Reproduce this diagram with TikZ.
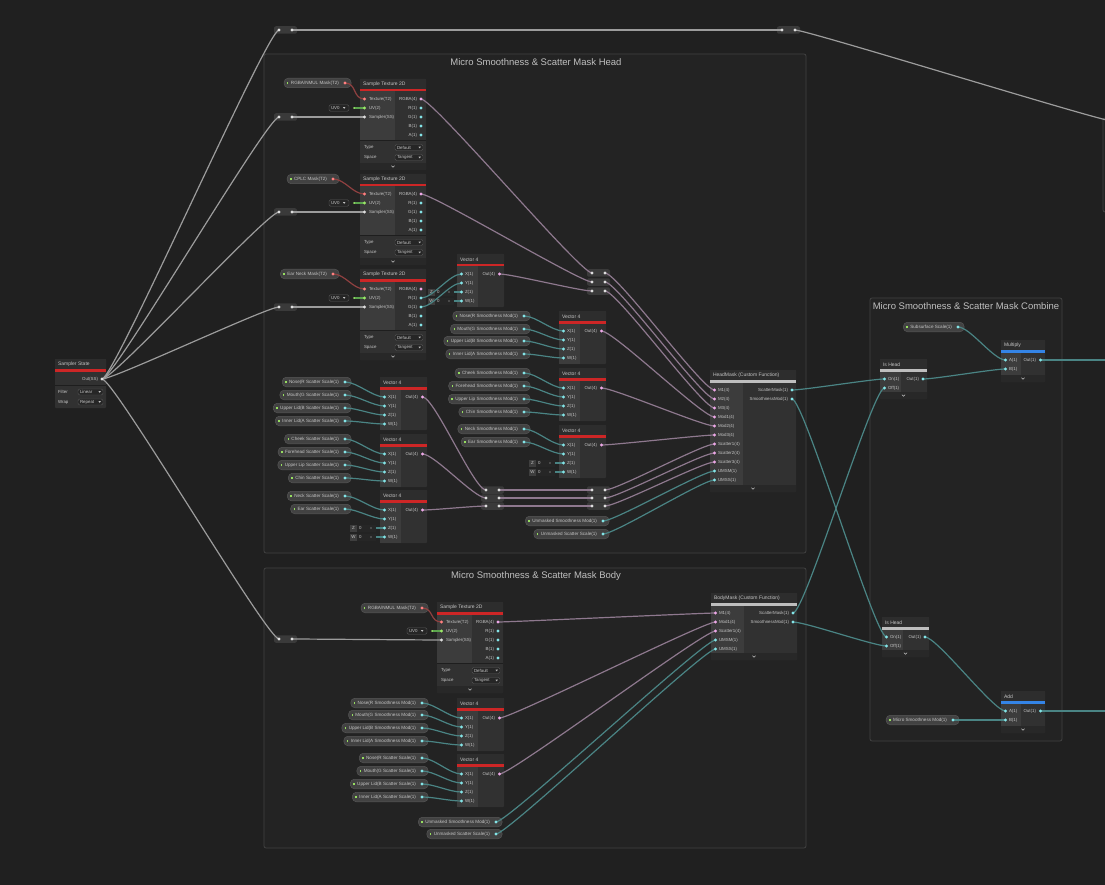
\documentclass[tikz,border=0pt]{standalone}
\usepackage{fontspec}
\setmainfont{Liberation Sans}
\usetikzlibrary{positioning}

\definecolor{canvas}{RGB}{32,32,32}
\definecolor{groupfill}{RGB}{35,35,35}
\definecolor{groupline}{RGB}{66,66,66}
\definecolor{titletxt}{RGB}{192,192,192}
\definecolor{labeltxt}{RGB}{196,196,196}
\definecolor{nodehead}{RGB}{45,45,45}
\definecolor{nodein}{RGB}{60,60,60}
\definecolor{nodeout}{RGB}{49,49,49}
\definecolor{nodefoot}{RGB}{40,40,40}
\definecolor{sepcol}{RGB}{30,30,30}
\definecolor{barred}{RGB}{205,38,38}
\definecolor{barblue}{RGB}{52,132,230}
\definecolor{bargray}{RGB}{190,190,190}
\definecolor{pillfill}{RGB}{66,66,66}
\definecolor{pillline}{RGB}{86,86,86}
\definecolor{propmark}{RGB}{150,222,96}
\definecolor{reroutefill}{RGB}{58,58,58}
\definecolor{fieldlbl}{RGB}{62,62,62}
\definecolor{fieldbox}{RGB}{38,38,38}
\definecolor{portvec4}{RGB}{238,168,232}
\definecolor{portvec1}{RGB}{132,228,231}
\definecolor{porttex}{RGB}{255,128,128}
\definecolor{portss}{RGB}{222,222,222}
\definecolor{portuv}{RGB}{156,232,104}
\definecolor{wirevec4}{RGB}{142,120,142}
\definecolor{wirevec1}{RGB}{74,132,132}
\definecolor{wiretex}{RGB}{142,64,64}
\definecolor{wiress}{RGB}{156,156,156}
\definecolor{wireuv}{RGB}{92,164,78}

\pgfdeclarelayer{wirelayer}
\pgfdeclarelayer{portlayer}
\pgfsetlayers{main,wirelayer,portlayer}

\tikzset{
  x=1pt, y=-1pt,
  every node/.style={inner sep=0pt, outer sep=0pt},
  groupbox/.style={fill=groupfill, draw=groupline, line width=0.8pt, rounded corners=2pt},
  grouptitle/.style={text=titletxt, font=\fontsize{9.5}{11}\selectfont},
  nodebox/.style={fill=nodeout, rounded corners=1pt},
  headtxt/.style={anchor=west, text=labeltxt, font=\fontsize{5}{6}\selectfont},
  porttxt/.style={text=labeltxt, font=\fontsize{4.4}{5}\selectfont},
  pillbox/.style={fill=pillfill, draw=pillline, line width=0.5pt, rounded corners=4pt,
    minimum height=9.5pt, inner xsep=3pt, text=labeltxt, font=\fontsize{4.6}{5.5}\selectfont},
  reroutebox/.style={fill=reroutefill, rounded corners=2pt, minimum width=23pt, minimum height=7.5pt},
  dropstyle/.style={fill=fieldbox, draw=pillline, line width=0.4pt, rounded corners=1.5pt},
  sepline/.style={draw=sepcol, line width=0.8pt},
  wire/.style={line width=1.2pt},
  v4wire/.style={wire, draw=wirevec4},
  v1wire/.style={wire, draw=wirevec1},
  texwire/.style={wire, draw=wiretex},
  sswire/.style={wire, draw=wiress},
  uvwire/.style={wire, draw=wireuv},
}

% small pieces
\newcommand{\port}[2]{\begin{pgfonlayer}{portlayer}\fill[#2] (#1) circle[radius=1.7pt];\end{pgfonlayer}}
\newcommand{\conn}[3]{\begin{pgfonlayer}{wirelayer}\draw[#1] (#2) .. controls +(12,0) and +(-12,0) .. (#3);\end{pgfonlayer}}
\newcommand{\chevron}[2]{\draw[labeltxt, line width=0.5pt] (#1-1.6,#2-0.8) -- (#1,#2+0.8) -- (#1+1.6,#2-0.8);}
\newcommand{\dropbox}[4]{% left, y, width, text
  \draw[dropstyle] (#1,#2-3) rectangle ++(#3,6);
  \node[porttxt, anchor=west] at (#1+2,#2) {#4};
  \fill[labeltxt] (#1+#3-4.5,#2-0.8) -- ++(2.4,0) -- ++(-1.2,1.6) -- cycle;
}
\newcommand{\uvfield}[3]{% name, left, y
  \node[dropstyle, minimum width=20pt, minimum height=6.5pt, anchor=west] (#1-box) at (#2,#3) {};
  \node[porttxt, anchor=west] (#1-lbl) at (#2+2,#3) {UV0};
  \fill[labeltxt] (#2+14,#3-0.8) -- ++(2.4,0) -- ++(-1.2,1.6) -- cycle;
  \coordinate (#1) at (#2+25,#3);
  \begin{pgfonlayer}{portlayer}\fill[portuv] (#1) circle[radius=1pt];\end{pgfonlayer}
}
\newcommand{\valfield}[4]{% name, left, y, letter
  \fill[fieldlbl] (#2,#3-3.5) rectangle ++(7,7);
  \fill[fieldbox] (#2+7,#3-3.5) rectangle ++(19,7);
  \node[porttxt] (#1-lbl) at (#2+3.5,#3) {#4};
  \node[porttxt, anchor=west] (#1-val) at (#2+9,#3) {0};
  \fill[labeltxt] (#2+21,#3) circle[radius=0.6pt];
  \coordinate (#1) at (#2+26,#3);
}
\newcommand{\proppill}[5]{% name, right, y, text, port colour
  \node[pillbox, anchor=east] (#1) at (#2,#3) {\textcolor{propmark}{\rule[-0.3pt]{1.4pt}{2.6pt}}\kern2.5pt#4\kern9pt};
  \coordinate (#1-out) at (#2-6,#3);
  \port{#1-out}{#5}
}
\newcommand{\reroute}[4]{% name, left, y, port colour
  \node[reroutebox, anchor=west] (#1) at (#2,#3) {};
  \coordinate (#1-in) at (#2+5,#3);
  \coordinate (#1-out) at (#2+18,#3);
  \port{#1-in}{#4}\port{#1-out}{#4}
}

% graph nodes
\newcommand{\samplerstate}[3]{%
  \node[nodebox, minimum width=51pt, minimum height=49pt, anchor=north west] (#1) at (#2,#3) {};
  \fill[nodehead] (#2,#3) rectangle ++(51,10);
  \fill[barred] (#2,#3+10) rectangle ++(51,2.5);
  \node[headtxt] (#1-title) at (#2+3,#3+5.5) {Sampler State};
  \node[porttxt, anchor=east] (#1-lbl) at (#2+43,#3+20) {Out(SS)};
  \coordinate (#1-out) at (#2+47,#3+20);
  \port{#1-out}{portss}
  \draw[sepline] (#2,#3+26) -- ++(51,0);
  \node[porttxt, anchor=west] (#1-filter) at (#2+3,#3+33) {Filter};
  \node[porttxt, anchor=west] (#1-wrap) at (#2+3,#3+43) {Wrap};
  \dropbox{#2+23}{#3+33}{25}{Linear}
  \dropbox{#2+23}{#3+43}{25}{Repeat}
}
\newcommand{\sampletex}[3]{%
  \node[nodebox, minimum width=66pt, minimum height=91pt, anchor=north west] (#1) at (#2,#3) {};
  \fill[nodehead] (#2,#3) rectangle ++(66,10);
  \fill[barred] (#2,#3+10) rectangle ++(66,2.5);
  \fill[nodein] (#2,#3+12.5) rectangle (#2+35,#3+61);
  \fill[nodefoot] (#2,#3+84) rectangle ++(66,7);
  \draw[sepline] (#2,#3+61) -- ++(66,0);
  \node[headtxt] (#1-title) at (#2+3,#3+5.5) {Sample Texture 2D};
  \foreach \p/\lbl/\dy/\col in {tex/Texture(T2)/20/porttex, uv/UV(2)/29/portuv, ss/Sampler(SS)/38/portss}{
    \node[porttxt, anchor=west] (#1-\p-lbl) at (#2+9,#3+\dy) {\lbl};
    \coordinate (#1-\p) at (#2+4.5,#3+\dy);
    \port{#1-\p}{\col}
  }
  \foreach \p/\lbl/\dy/\col in {rgba/RGBA(4)/20/portvec4, r/R(1)/29/portvec1, g/G(1)/38/portvec1, b/B(1)/47/portvec1, a/A(1)/56/portvec1}{
    \node[porttxt, anchor=east] (#1-\p-lbl) at (#2+57,#3+\dy) {\lbl};
    \coordinate (#1-\p) at (#2+61,#3+\dy);
    \port{#1-\p}{\col}
  }
  \node[porttxt, anchor=west] (#1-type) at (#2+4,#3+68.5) {Type};
  \node[porttxt, anchor=west] (#1-space) at (#2+4,#3+78.5) {Space};
  \dropbox{#2+35}{#3+68.5}{28}{Default}
  \dropbox{#2+35}{#3+78.5}{28}{Tangent}
  \chevron{#2+33}{#3+87.5}
}
\newcommand{\vecfour}[3]{%
  \node[nodebox, minimum width=47pt, minimum height=53pt, anchor=north west] (#1) at (#2,#3) {};
  \fill[nodehead] (#2,#3) rectangle ++(47,10);
  \fill[barred] (#2,#3+10) rectangle ++(47,2.5);
  \fill[nodein] (#2,#3+12.5) rectangle (#2+21,#3+53);
  \node[headtxt] (#1-title) at (#2+3,#3+5.5) {Vector 4};
  \foreach \p/\lbl/\dy in {x/X(1)/20, y/Y(1)/29, z/Z(1)/38, w/W(1)/47}{
    \node[porttxt, anchor=west] (#1-\p-lbl) at (#2+8,#3+\dy) {\lbl};
    \coordinate (#1-\p) at (#2+4.5,#3+\dy);
    \port{#1-\p}{portvec1}
  }
  \node[porttxt, anchor=east] (#1-out-lbl) at (#2+38,#3+20) {Out(4)};
  \coordinate (#1-out) at (#2+42.5,#3+20);
  \port{#1-out}{portvec4}
}
\newcommand{\custfunc}[6]{% name, left, top, height, title, inputs
  \node[nodebox, minimum width=86pt, minimum height=#4pt, anchor=north west] (#1) at (#2,#3) {};
  \fill[nodehead] (#2,#3) rectangle ++(86,10);
  \fill[bargray] (#2,#3+10) rectangle ++(86,2.5);
  \fill[nodein] (#2,#3+12.5) rectangle (#2+33,#3+#4-7);
  \fill[nodefoot] (#2,#3+#4-7) rectangle (#2+86,#3+#4);
  \node[headtxt] (#1-title) at (#2+3,#3+5.5) {#5};
  \foreach \lbl/\col [count=\i] in {#6}{
    \node[porttxt, anchor=west] (#1-in\i-lbl) at (#2+8,#3+11+9*\i) {\lbl};
    \coordinate (#1-in\i) at (#2+4.5,#3+11+9*\i);
    \port{#1-in\i}{\col}
  }
  \node[porttxt, anchor=east] (#1-scat-lbl) at (#2+78,#3+20) {ScatterMask(1)};
  \node[porttxt, anchor=east] (#1-smooth-lbl) at (#2+78,#3+29) {SmoothnessMod(1)};
  \coordinate (#1-scat) at (#2+82,#3+20);
  \coordinate (#1-smooth) at (#2+82,#3+29);
  \port{#1-scat}{portvec1}\port{#1-smooth}{portvec1}
  \chevron{#2+43}{#3+#4-3.5}
}
\newcommand{\ishead}[3]{%
  \node[nodebox, minimum width=47pt, minimum height=40pt, anchor=north west] (#1) at (#2,#3) {};
  \fill[nodehead] (#2,#3) rectangle ++(47,10);
  \fill[bargray] (#2,#3+10) rectangle ++(47,2.5);
  \fill[nodein] (#2,#3+12.5) rectangle (#2+21,#3+33);
  \fill[nodefoot] (#2,#3+33) rectangle ++(47,7);
  \node[headtxt] (#1-title) at (#2+3,#3+5.5) {Is Head};
  \node[porttxt, anchor=west] (#1-on-lbl) at (#2+8,#3+20) {On(1)};
  \node[porttxt, anchor=west] (#1-off-lbl) at (#2+8,#3+29) {Off(1)};
  \node[porttxt, anchor=east] (#1-out-lbl) at (#2+39,#3+20) {Out(1)};
  \coordinate (#1-on) at (#2+4.5,#3+20);
  \coordinate (#1-off) at (#2+4.5,#3+29);
  \coordinate (#1-out) at (#2+43,#3+20);
  \port{#1-on}{portvec1}\port{#1-off}{portvec1}\port{#1-out}{portvec1}
  \chevron{#2+23.5}{#3+36.5}
}
\newcommand{\mathnode}[4]{% name, left, top, title
  \node[nodebox, minimum width=44pt, minimum height=42pt, anchor=north west] (#1) at (#2,#3) {};
  \fill[nodehead] (#2,#3) rectangle ++(44,10);
  \fill[barblue] (#2,#3+10) rectangle ++(44,2.5);
  \fill[nodein] (#2,#3+12.5) rectangle (#2+20,#3+35);
  \fill[nodefoot] (#2,#3+35) rectangle ++(44,7);
  \node[headtxt] (#1-title) at (#2+3,#3+5.5) {#4};
  \node[porttxt, anchor=west] (#1-a-lbl) at (#2+8,#3+20) {A(1)};
  \node[porttxt, anchor=west] (#1-b-lbl) at (#2+8,#3+29) {B(1)};
  \node[porttxt, anchor=east] (#1-out-lbl) at (#2+35,#3+20) {Out(1)};
  \coordinate (#1-a) at (#2+4.5,#3+20);
  \coordinate (#1-b) at (#2+4.5,#3+29);
  \coordinate (#1-out) at (#2+39.5,#3+20);
  \port{#1-a}{portvec1}\port{#1-b}{portvec1}\port{#1-out}{portvec1}
  \chevron{#2+22}{#3+38.5}
}

\begin{document}
\begin{tikzpicture}
  \useasboundingbox (0,0) rectangle (1105,885);
  \fill[canvas] (0,0) rectangle (1105,885);

  % groups
  \node[groupbox, minimum width=542pt, minimum height=499pt, anchor=north west] (grphead) at (264,54) {};
  \node[grouptitle] (grphead-title) at (536,62) {Micro Smoothness \& Scatter Mask Head};
  \node[groupbox, minimum width=542pt, minimum height=280pt, anchor=north west] (grpbody) at (264,568) {};
  \node[grouptitle] (grpbody-title) at (536,576) {Micro Smoothness \& Scatter Mask Body};
  \node[groupbox, minimum width=192pt, minimum height=443pt, anchor=north west] (grpcomb) at (870,298) {};
  \node[grouptitle] (grpcomb-title) at (966,306) {Micro Smoothness \& Scatter Mask Combine};
  \node[groupbox, minimum width=120pt, minimum height=94pt, anchor=north west] (grpnext) at (1103,118) {};

  % sampler and its reroutes
  \samplerstate{sampler}{55}{359}
  \reroute{rdtop}{274}{30}{portss}
  \reroute{rdfar}{777}{30}{portss}
  \reroute{rdst1}{274}{117}{portss}
  \reroute{rdst2}{274}{212}{portss}
  \reroute{rdst3}{274}{307}{portss}
  \reroute{rdbody}{274}{639}{portss}
  \coordinate (exit-top) at (1112,121);

  % head: textures
  \sampletex{st1}{360}{79}
  \sampletex{st2}{360}{174}
  \sampletex{st3}{360}{269}
  \proppill{tex1}{351}{83}{RGBA/NMUL Mask(T2)}{porttex}
  \proppill{tex2}{339}{179}{CPLC Mask(T2)}{porttex}
  \proppill{tex3}{339}{274}{Ear Neck Mask(T2)}{porttex}
  \uvfield{uv1}{329}{108}
  \uvfield{uv2}{329}{203}
  \uvfield{uv3}{329}{298}

  % head: vectors
  \vecfour{vh}{457}{254}
  \valfield{vhz}{428}{292}{Z}
  \valfield{vhw}{428}{301}{W}
  \vecfour{vm1}{559}{311}
  \vecfour{vm2}{559}{368}
  \vecfour{vm3}{559}{425}
  \valfield{vm3z}{529}{463}{Z}
  \valfield{vm3w}{529}{472}{W}
  \vecfour{vs1}{380}{377}
  \vecfour{vs2}{380}{434}
  \vecfour{vs3}{380}{490}
  \valfield{vs3z}{350}{528}{Z}
  \valfield{vs3w}{350}{537}{W}

  \foreach \nm/\yy/\txt/\tgt in {
      hsm1/316/Nose(R Smoothness Mod(1)/vm1-x, hsm2/329/Mouth(G Smoothness Mod(1)/vm1-y,
      hsm3/341/Upper Lid(B Smoothness Mod(1)/vm1-z, hsm4/354/Inner Lid(A Smoothness Mod(1)/vm1-w,
      hsm5/373/Cheek Smoothness Mod(1)/vm2-x, hsm6/386/Forehead Smoothness Mod(1)/vm2-y,
      hsm7/399/Upper Lip Smoothness Mod(1)/vm2-z, hsm8/412/Chin Smoothness Mod(1)/vm2-w,
      hsm9/429/Neck Smoothness Mod(1)/vm3-x, hsm10/442/Ear Smoothness Mod(1)/vm3-y}{
    \proppill{\nm}{530}{\yy}{\txt}{portvec1}
    \conn{v1wire}{\nm-out}{\tgt}
  }
  \foreach \nm/\yy/\txt/\tgt in {
      hsc1/382/Nose(R Scatter Scale(1)/vs1-x, hsc2/395/Mouth(G Scatter Scale(1)/vs1-y,
      hsc3/408/Upper Lid(B Scatter Scale(1)/vs1-z, hsc4/421/Inner Lid(A Scatter Scale(1)/vs1-w,
      hsc5/439/Cheek Scatter Scale(1)/vs2-x, hsc6/452/Forehead Scatter Scale(1)/vs2-y,
      hsc7/465/Upper Lip Scatter Scale(1)/vs2-z, hsc8/478/Chin Scatter Scale(1)/vs2-w,
      hsc9/496/Neck Scatter Scale(1)/vs3-x, hsc10/509/Ear Scatter Scale(1)/vs3-y}{
    \proppill{\nm}{351}{\yy}{\txt}{portvec1}
    \conn{v1wire}{\nm-out}{\tgt}
  }

  % head: reroute stacks and mask function
  \foreach \i/\yy in {1/273, 2/282, 3/291}{
    \reroute{rcm\i}{587}{\yy}{portss}
  }
  \foreach \i/\yy in {1/490, 2/498, 3/506}{
    \reroute{rcsl\i}{481}{\yy}{portss}
    \reroute{rcsr\i}{587}{\yy}{portss}
  }
  \custfunc{hm}{710}{370}{122}{HeadMask (Custom Function)}{M1(4)/portvec4, M2(4)/portvec4, M3(4)/portvec4,
    Mod1(4)/portvec4, Mod2(4)/portvec4, Mod3(4)/portvec4, Scatter1(4)/portvec4, Scatter2(4)/portvec4,
    Scatter3(4)/portvec4, UMSM(1)/portvec1, UMSS(1)/portvec1}
  \proppill{hum1}{609}{521}{Unmasked Smoothness Mod(1)}{portvec1}
  \proppill{hum2}{609}{534}{Unmasked Scatter Scale(1)}{portvec1}

  % body
  \sampletex{stb}{437}{602}
  \proppill{texb}{428}{608}{RGBA/NMUL Mask(T2)}{porttex}
  \uvfield{uvb}{407}{631}
  \vecfour{vbm}{457}{698}
  \vecfour{vbs}{457}{754}
  \foreach \nm/\yy/\txt/\tgt in {
      bsm1/703/Nose(R Smoothness Mod(1)/vbm-x, bsm2/715/Mouth(G Smoothness Mod(1)/vbm-y,
      bsm3/728/Upper Lid(B Smoothness Mod(1)/vbm-z, bsm4/741/Inner Lid(A Smoothness Mod(1)/vbm-w,
      bsc1/758/Nose(R Scatter Scale(1)/vbs-x, bsc2/771/Mouth(G Scatter Scale(1)/vbs-y,
      bsc3/784/Upper Lid(B Scatter Scale(1)/vbs-z, bsc4/797/Inner Lid(A Scatter Scale(1)/vbs-w}{
    \proppill{\nm}{428}{\yy}{\txt}{portvec1}
    \conn{v1wire}{\nm-out}{\tgt}
  }
  \custfunc{bm}{711}{593}{67}{BodyMask (Custom Function)}{M1(4)/portvec4, Mod1(4)/portvec4,
    Scatter1(4)/portvec4, UMSM(1)/portvec1, UMSS(1)/portvec1}
  \proppill{bum1}{502}{822}{Unmasked Smoothness Mod(1)}{portvec1}
  \proppill{bum2}{502}{834}{Unmasked Scatter Scale(1)}{portvec1}

  % combine
  \ishead{ih1}{880}{359}
  \ishead{ih2}{882}{617}
  \mathnode{mul}{1001}{340}{Multiply}
  \mathnode{add}{1001}{691}{Add}
  \proppill{subs}{964}{327}{Subsurface Scale(1)}{portvec1}
  \proppill{micro}{959}{720}{Micro Smoothness Mod(1)}{portvec1}
  \coordinate (exit-mul) at (1112,360);
  \coordinate (exit-add) at (1112,711);

  % wires
  \foreach \r in {rdtop, rdst1, rdst2, rdst3, rdbody}{
    \conn{sswire}{sampler-out}{\r-in}
  }
  \conn{sswire}{rdtop-out}{rdfar-in}
  \conn{sswire}{rdfar-out}{exit-top}
  \foreach \s in {1,2,3}{
    \conn{sswire}{rdst\s-out}{st\s-ss}
    \conn{texwire}{tex\s-out}{st\s-tex}
    \conn{uvwire}{uv\s}{st\s-uv}
  }
  \conn{sswire}{rdbody-out}{stb-ss}
  \conn{texwire}{texb-out}{stb-tex}
  \conn{uvwire}{uvb}{stb-uv}

  \conn{v1wire}{st3-r}{vh-x}
  \conn{v1wire}{st3-g}{vh-y}
  \conn{v1wire}{vhz}{vh-z}
  \conn{v1wire}{vhw}{vh-w}
  \conn{v1wire}{vm3z}{vm3-z}
  \conn{v1wire}{vm3w}{vm3-w}
  \conn{v1wire}{vs3z}{vs3-z}
  \conn{v1wire}{vs3w}{vs3-w}

  \conn{v4wire}{st1-rgba}{rcm1-in}
  \conn{v4wire}{st2-rgba}{rcm2-in}
  \conn{v4wire}{vh-out}{rcm3-in}
  \foreach \i [evaluate=\i as \j using int(\i+3), evaluate=\i as \k using int(\i+6)] in {1,2,3}{
    \conn{v4wire}{rcm\i-out}{hm-in\i}
    \conn{v4wire}{vm\i-out}{hm-in\j}
    \conn{v4wire}{vs\i-out}{rcsl\i-in}
    \conn{v4wire}{rcsl\i-out}{rcsr\i-in}
    \conn{v4wire}{rcsr\i-out}{hm-in\k}
  }
  \conn{v1wire}{hum1-out}{hm-in10}
  \conn{v1wire}{hum2-out}{hm-in11}

  \conn{v4wire}{stb-rgba}{bm-in1}
  \conn{v4wire}{vbm-out}{bm-in2}
  \conn{v4wire}{vbs-out}{bm-in3}
  \conn{v1wire}{bum1-out}{bm-in4}
  \conn{v1wire}{bum2-out}{bm-in5}

  \conn{v1wire}{hm-scat}{ih1-on}
  \conn{v1wire}{bm-scat}{ih1-off}
  \conn{v1wire}{hm-smooth}{ih2-on}
  \conn{v1wire}{bm-smooth}{ih2-off}
  \conn{v1wire}{subs-out}{mul-a}
  \conn{v1wire}{ih1-out}{mul-b}
  \conn{v1wire}{mul-out}{exit-mul}
  \conn{v1wire}{ih2-out}{add-a}
  \conn{v1wire}{micro-out}{add-b}
  \conn{v1wire}{add-out}{exit-add}
\end{tikzpicture}
\end{document}
